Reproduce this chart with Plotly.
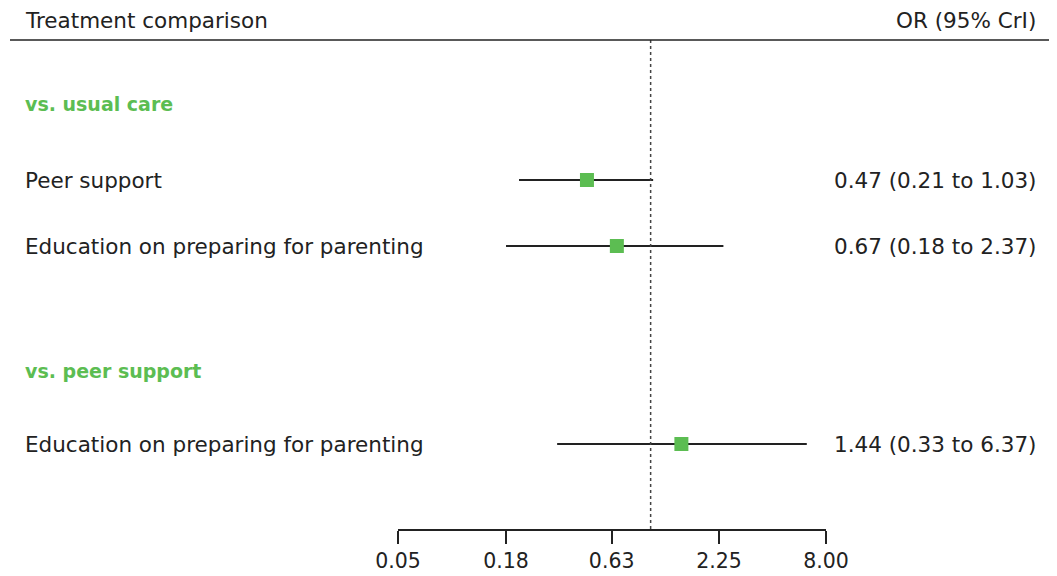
import plotly.graph_objects as go

# ---- data ----
group_labels = ["vs. usual care", "vs. peer support"]
row_labels = ["Peer support", "Education on preparing for parenting", "Education on preparing for parenting"]
or_vals = [0.47, 0.67, 1.44]
ci_lo = [0.21, 0.18, 0.33]
ci_hi = [1.03, 2.37, 6.37]
tick_vals = [0.05, 0.18, 0.63, 2.25, 8.00]
tick_text = ["0.05", "0.18", "0.63", "2.25", "8.00"]
header_left = "Treatment comparison"
header_right = "OR (95% CrI)"

# ---- layout positions (reference pixels; page body adds an 8px offset) ----
OFF = 8
W, H = 1057 - OFF, 576 - OFF
def py(v):
    return v - OFF
def px(v):
    return (v - OFF) / W

row_y = [py(180), py(246), py(444)]
group_y = [py(104), py(371)]
header_y = py(20)
header_line_y = py(40)
axis_y = py(530)

FONT = "DejaVu Sans"
FS = 21.5
FS_BOLD = 19
FS_TICK = 20.5
GREEN = "#5cbd52"
DARK = "#222222"

fig = go.Figure()

# CI lines
xs, ys = [], []
for lo, hi, y in zip(ci_lo, ci_hi, row_y):
    xs += [lo, hi, None]
    ys += [y, y, None]
fig.add_trace(go.Scatter(x=xs, y=ys, mode="lines", line=dict(color=DARK, width=2),
                         hoverinfo="skip", showlegend=False, cliponaxis=False))
# point estimates
fig.add_trace(go.Scatter(x=or_vals, y=row_y, mode="markers",
                         marker=dict(symbol="square", size=14, color=GREEN, line=dict(width=0)),
                         showlegend=False, cliponaxis=False))

# reference line at OR = 1
fig.add_shape(type="line", x0=1, x1=1, y0=header_line_y, y1=axis_y, xref="x", yref="y",
              line=dict(color="#444444", width=1.5, dash="dot"))
# header rule
fig.add_shape(type="line", x0=px(10), x1=1, y0=header_line_y, y1=header_line_y, xref="paper", yref="y",
              line=dict(color=DARK, width=1.5))

ann = []
ann.append(dict(x=px(23), y=header_y, text=header_left, xanchor="left"))
ann.append(dict(x=px(1038), y=header_y, text=header_right, xanchor="right"))
for g, y in zip(group_labels, group_y):
    ann.append(dict(x=px(23), y=y, text="<b>" + g + "</b>", xanchor="left",
                    font=dict(color=GREEN, size=FS_BOLD, family=FONT)))
for lab, o, lo, hi, y in zip(row_labels, or_vals, ci_lo, ci_hi, row_y):
    ann.append(dict(x=px(23), y=y, text=lab, xanchor="left"))
    ann.append(dict(x=px(1038), y=y, text=f"{o:.2f} ({lo:.2f} to {hi:.2f})", xanchor="right"))
for a in ann:
    a.setdefault("font", dict(color=DARK, size=FS, family=FONT))
    a.update(xref="paper", yref="y", yanchor="middle", showarrow=False)

fig.update_layout(
    width=W, height=H,
    margin=dict(l=0, r=0, t=0, b=0, autoexpand=False),
    paper_bgcolor="white", plot_bgcolor="white",
    annotations=ann,
    font=dict(family=FONT, color=DARK, size=FS),
    xaxis=dict(type="log", domain=[px(398), px(826)],
               range=[-1.30103, 0.90309], tickvals=tick_vals, ticktext=tick_text,
               showline=True, linecolor=DARK, linewidth=1.5, ticks="outside", ticklen=13,
               tickwidth=1.5, tickcolor=DARK, showgrid=False, zeroline=False, automargin=False,
               anchor="free", position=1 - axis_y / H, tickfont=dict(size=FS_TICK, color=DARK, family=FONT)),
    yaxis=dict(range=[H, 0], domain=[0, 1], visible=False, showgrid=False, zeroline=False),
)

fig.write_html("out.html")
